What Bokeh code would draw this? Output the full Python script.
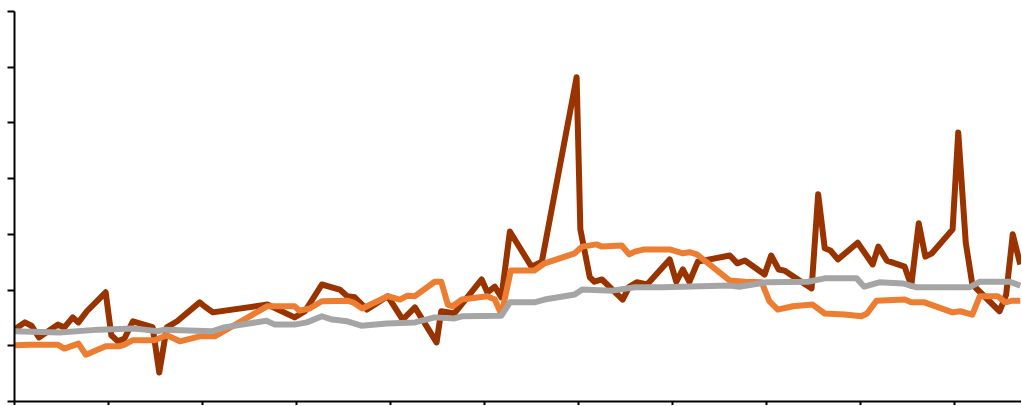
from bokeh.plotting import figure
from bokeh.models import Range1d, FixedTicker
from bokeh.embed import file_html
from bokeh.resources import INLINE

# Series 1 (dark brown)
x_dark = [0.0, 1.1, 1.8, 2.6, 4.6, 5.3, 6.2, 6.8, 7.7, 9.7, 10.3, 11.0, 11.7, 12.6, 14.4, 14.7,
          15.4, 16.2, 17.3, 19.7, 20.2, 21.1, 26.9, 29.8, 30.9, 32.7, 34.6, 35.4, 36.2, 37.5,
          39.7, 41.3, 42.6, 44.9, 45.4, 46.8, 49.7, 50.3, 51.1, 51.8, 52.7, 55.0, 56.1, 59.8,
          60.2, 61.2, 61.7, 62.5, 64.7, 65.4, 66.2, 67.3, 69.7, 70.4, 71.1, 71.8, 72.7, 76.1,
          76.9, 77.7, 79.8, 80.5, 81.3, 81.9, 84.8, 85.5, 86.2, 86.8, 87.6, 89.7, 91.3, 91.9,
          92.8, 94.7, 95.4, 96.2, 96.9, 97.6, 99.8, 100.4, 101.2, 101.9, 104.8, 105.5, 106.2, 107.0]
y_dark = [12.9, 14.2, 13.6, 11.5, 13.8, 13.3, 15.1, 14.2, 16.2, 19.6, 11.9, 10.8, 11.3, 14.4, 13.5, 13.3,
          5.2, 13.3, 14.4, 17.8, 17.1, 16.0, 17.4, 15.1, 16.2, 21.0, 20.1, 18.9, 18.7, 16.5,
          18.9, 14.7, 16.9, 10.6, 16.2, 15.8, 21.9, 19.6, 20.6, 18.7, 30.5, 24.2, 25.1, 58.2,
          30.9, 22.3, 21.5, 21.9, 18.3, 20.6, 21.4, 21.0, 25.5, 21.5, 23.7, 21.5, 25.1, 26.2,
          24.8, 25.3, 22.8, 26.2, 23.7, 23.5, 20.3, 37.2, 27.5, 27.1, 25.5, 28.5, 24.6, 27.8,
          25.3, 24.2, 20.8, 32.0, 26.0, 26.6, 30.9, 48.3, 28.5, 21.0, 16.2, 19.2, 30.0, 24.6]

# Series 2 (orange)
x_orange = [0.0, 1.6, 4.6, 5.3, 6.8, 7.6, 9.7, 11.1, 11.7, 12.6, 14.4, 14.9, 16.2, 17.6, 19.7, 21.3,
            26.9, 29.8, 30.3, 31.4, 32.7, 35.4, 36.0, 37.0, 39.7, 41.0, 41.8, 42.6, 44.7, 45.4,
            46.1, 46.6, 47.6, 50.3, 51.1, 51.8, 52.8, 55.3, 56.4, 59.6, 60.4, 61.9, 62.5, 64.6,
            65.4, 66.0, 67.0, 69.7, 71.1, 71.8, 72.6, 76.1, 77.7, 79.5, 80.3, 81.2, 82.8, 84.9,
            86.2, 88.3, 90.1, 90.7, 91.7, 94.7, 95.4, 96.8, 99.8, 100.6, 101.9, 102.7, 104.6,
            105.4, 106.2, 107.0]
y_orange = [10.1, 10.2, 10.2, 9.5, 10.4, 8.4, 9.9, 9.9, 10.2, 11.0, 11.0, 11.0, 11.9, 10.8, 11.7, 11.7,
            17.1, 17.1, 16.3, 16.7, 18.0, 18.1, 17.8, 16.7, 18.9, 18.3, 19.0, 18.9, 21.5, 21.5,
            17.4, 17.1, 18.3, 18.9, 18.3, 15.6, 23.5, 23.5, 24.8, 26.6, 27.8, 28.2, 27.8, 28.0,
            26.4, 26.9, 27.3, 27.3, 26.6, 26.8, 26.4, 21.7, 21.5, 21.4, 18.0, 16.5, 17.1, 17.4,
            15.8, 15.6, 15.3, 15.8, 18.1, 18.3, 17.8, 17.8, 16.0, 16.2, 15.6, 18.9, 18.9,
            17.8, 18.1, 18.1]

# Series 3 (grey)
x_grey = [0.0, 4.8, 9.0, 12.6, 13.8, 15.2, 16.0, 21.0, 22.3, 26.8, 27.7, 29.8, 31.1, 32.7, 33.8,
          35.4, 36.9, 39.6, 42.6, 44.7, 46.8, 47.6, 51.8, 52.7, 55.3, 56.4, 59.6, 60.4, 63.6,
          66.0, 68.9, 76.1, 77.1, 80.0, 84.4, 86.2, 89.6, 90.4, 92.0, 94.5, 96.0, 101.6, 102.7,
          105.9, 107.0]
y_grey = [12.6, 12.4, 12.9, 13.1, 12.9, 12.6, 12.9, 12.6, 13.3, 14.5, 13.8, 13.8, 14.2, 15.3, 14.7,
          14.4, 13.6, 14.0, 14.2, 15.1, 14.9, 15.3, 15.4, 17.8, 17.8, 18.3, 19.2, 20.1, 19.9,
          20.5, 20.5, 20.8, 20.6, 21.4, 21.5, 22.1, 22.1, 20.6, 21.4, 21.2, 20.5, 20.5, 21.5,
          21.5, 20.8]

x_ticks = [0, 10, 20, 30, 40, 50, 60, 70, 80, 90, 100, 110]
y_ticks = [0, 10, 20, 30, 40, 50, 60, 70]

p = figure(width=1021, height=405, output_backend="svg", toolbar_location=None,
           x_range=Range1d(0, 107.13), y_range=Range1d(0, 70),
           min_border_left=14, min_border_right=0, min_border_top=11, min_border_bottom=4)
p.outline_line_color = None
p.xgrid.visible = False
p.ygrid.visible = False
p.background_fill_color = "white"
p.border_fill_color = "white"

p.line(x_dark, y_dark, line_color="#993300", line_width=6, line_join="round")
p.line(x_orange, y_orange, line_color="#ED7D31", line_width=6, line_join="round")
p.line(x_grey, y_grey, line_color="#A5A5A5", line_width=6, line_join="round")

for ax in (p.xaxis[0], p.yaxis[0]):
    ax.axis_line_color = "black"
    ax.axis_line_width = 2
    ax.major_tick_line_color = "black"
    ax.major_tick_line_width = 2
    ax.major_tick_in = 0
    ax.minor_tick_line_color = None
    ax.major_label_text_font_size = "0px"
    ax.major_label_text_color = None
    ax.major_label_standoff = 0
    ax.axis_label = None

p.xaxis[0].ticker = FixedTicker(ticks=x_ticks)
p.yaxis[0].ticker = FixedTicker(ticks=y_ticks)
p.xaxis[0].major_tick_out = 4
p.yaxis[0].major_tick_out = 7

open("out.html", "w").write(file_html(p, INLINE))
